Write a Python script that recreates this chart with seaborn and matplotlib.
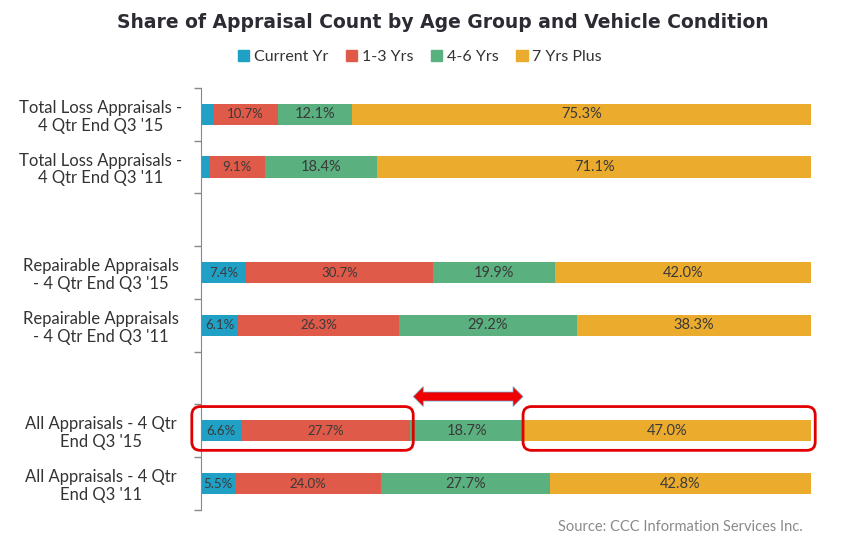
import numpy as np
import pandas as pd
import seaborn as sns
import matplotlib.pyplot as plt
from matplotlib.patches import FancyBboxPatch, Polygon, Patch

# data (percent of appraisals), blank rows are spacers between groups
rows = ['tl15', 'tl11', 'gap1', 'rp15', 'rp11', 'gap2', 'all15', 'all11']
row_labels = ["Total Loss Appraisals -\n4 Qtr End Q3 '15",
              "Total Loss Appraisals -\n4 Qtr End Q3 '11",
              "",
              "Repairable Appraisals\n- 4 Qtr End Q3 '15",
              "Repairable Appraisals\n- 4 Qtr End Q3 '11",
              "",
              "All Appraisals - 4 Qtr\nEnd Q3 '15",
              "All Appraisals - 4 Qtr\nEnd Q3 '11"]
data_rows = ['tl15', 'tl11', 'rp15', 'rp11', 'all15', 'all11']
current_yr = [1.9, 1.4, 7.4, 6.1, 6.6, 5.5]
yrs_1_3 = [10.7, 9.1, 30.7, 26.3, 27.7, 24.0]
yrs_4_6 = [12.1, 18.4, 19.9, 29.2, 18.7, 27.7]
yrs_7_plus = [75.3, 71.1, 42.0, 38.3, 47.0, 42.8]

series = ['Current Yr', '1-3 Yrs', '4-6 Yrs', '7 Yrs Plus']
colors = ['#21A0C6', '#DF5A49', '#5AB07E', '#EBAC2D']

df = pd.DataFrame({'row': data_rows, 'Current Yr': current_yr, '1-3 Yrs': yrs_1_3,
                   '4-6 Yrs': yrs_4_6, '7 Yrs Plus': yrs_7_plus})
cum = df[series].cumsum(axis=1)
# rescale so every bar ends at 100
cum = cum.div(cum['7 Yrs Plus'], axis=0) * 100
cum['row'] = df['row']

sns.set_style('white')
plt.rcParams['font.family'] = ['Lato', 'DejaVu Sans']

fig = plt.figure(figsize=(8.61, 5.46), dpi=100)
ax_box = [0.2334, 0.066, 0.7085, 0.773]
ax = fig.add_axes(ax_box)

# draw cumulative layers from the back
for s, c in zip(series[::-1], colors[::-1]):
    sns.barplot(data=cum, x=s, y='row', order=rows, orient='h', color=c,
                width=0.4, saturation=1, ax=ax, linewidth=0)

# segment labels
for i, r in enumerate(data_rows):
    y = rows.index(r)
    left = 0
    for s in series:
        val = df.loc[i, s]
        width = cum.loc[i, s] - left
        if val >= 3:
            fs = 9.5 if s in ('Current Yr', '1-3 Yrs') else 10.5
            ax.text(left + width / 2, y, f'{val:.1f}%', ha='center', va='center',
                    fontsize=fs, color='#3a3a3a')
        left = cum.loc[i, s]

ax.set_xlim(0, 100)
ax.set_ylim(len(rows) - 0.5, -0.5)
ax.set_xlabel('')
ax.set_ylabel('')
ax.set_xticks([])
ax.set_yticks(range(len(rows)))
ax.set_yticklabels(row_labels, fontsize=12, color='#333333', ha='center',
                   linespacing=1.15)
ax.tick_params(axis='y', which='major', length=0, pad=72)
ax.set_yticks(np.arange(-0.5, len(rows), 1), minor=True)
ax.tick_params(axis='y', which='minor', left=True, length=5, color='#888888', width=1)
for sp in ['top', 'right', 'bottom']:
    ax.spines[sp].set_visible(False)
ax.spines['left'].set_color('#888888')

# pixel sizes of one data unit, used for the annotation shapes
px_x = ax_box[2] * 861 / 100
px_y = ax_box[3] * 546 / len(rows)

# highlight boxes
asp = px_x / px_y
for x0, x1 in [(-1.5, 34.8), (52.8, 100.7)]:
    box = FancyBboxPatch((x0, 5.54), x1 - x0, 0.83,
                         boxstyle='round,pad=0,rounding_size=1.4',
                         mutation_aspect=asp, fill=False, edgecolor='#E00000',
                         linewidth=2, clip_on=False, zorder=5)
    ax.add_patch(box)

# double headed arrow between the boxes
ax0, ax1, ay = 34.8, 52.8, 5.35
hl, hw, bw = 10 / px_x, 10 / px_y, 4.5 / px_y
pts = [(ax0, ay), (ax0 + hl, ay - hw), (ax0 + hl, ay - bw), (ax1 - hl, ay - bw),
       (ax1 - hl, ay - hw), (ax1, ay), (ax1 - hl, ay + hw), (ax1 - hl, ay + bw),
       (ax0 + hl, ay + bw), (ax0 + hl, ay + hw)]
ax.add_patch(Polygon(pts, closed=True, facecolor='#F00000', edgecolor='#6AAFD6',
                     linewidth=0.5, clip_on=False, zorder=5))

fig.text(0.514, 0.958, 'Share of Appraisal Count by Age Group and Vehicle Condition',
         ha='center', va='center', fontsize=13.5, fontweight='bold', color='#2b2b33',
         family='DejaVu Sans')
handles = [Patch(color=c, label=s) for s, c in zip(series, colors)]
fig.legend(handles=handles, loc='center', bbox_to_anchor=(0.488, 0.895), ncol=4,
           frameon=False, fontsize=11.5, handlelength=0.7, handleheight=0.7,
           handletextpad=0.3, columnspacing=1.1, labelcolor='#333333')
fig.text(0.932, 0.034, 'Source: CCC Information Services Inc.', ha='right',
         va='center', fontsize=10.5, color='#8a8a8a')

fig.savefig('out.png', dpi=100)
